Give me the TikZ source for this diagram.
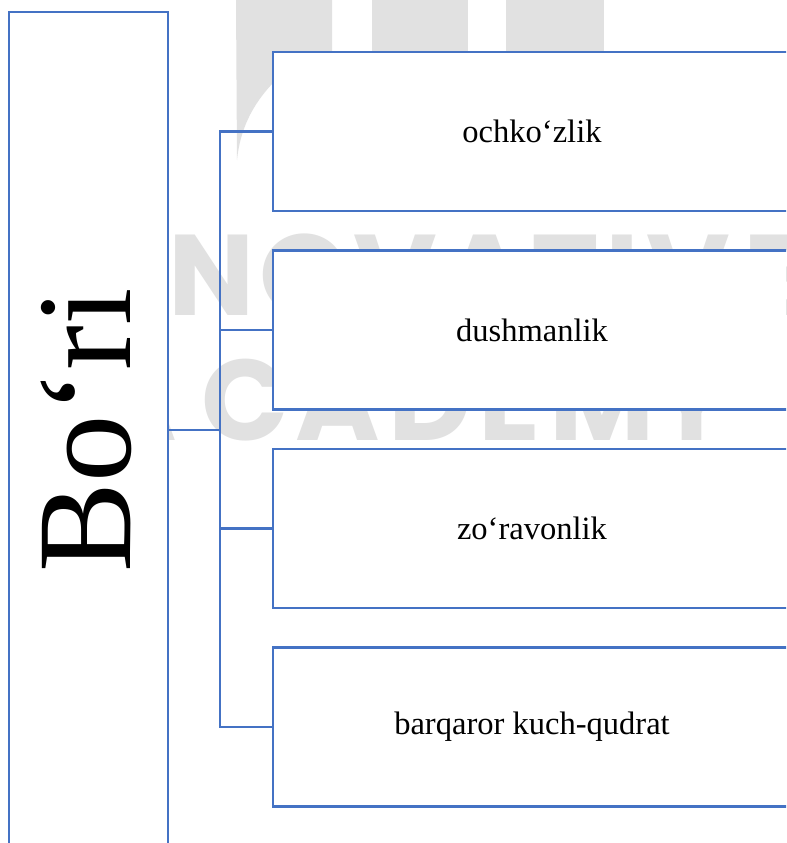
\documentclass[tikz,border=0pt]{standalone}
\usepackage{fontspec}
\setmainfont{Liberation Serif}
\newfontfamily\wmfont{Poppins}
\definecolor{boxblue}{HTML}{4472C4}
\definecolor{wmgrey}{HTML}{E1E1E1}
\tikzset{
  pix/.style={x=0.75pt,y=-0.75pt},
  boxline/.style={draw=boxblue,line width=1.9pt},
  item/.style={boxline,fill=white,rectangle,minimum width=388.5pt,minimum height=119.25pt,inner sep=0pt,font=\fontsize{24.4}{28}\selectfont},
  wire/.style={draw=boxblue,line width=1.9pt},
  wm/.style={text=wmgrey,font=\wmfont\bfseries\fontsize{86}{90}\selectfont,inner sep=0pt,anchor=base}
}
\begin{document}
\begin{tikzpicture}[pix]
\useasboundingbox (0,0) rectangle (786,843);
\clip (0,0) rectangle (786,843);
\fill[white] (0,0) rectangle (786,843);
% watermark logo
\fill[wmgrey] (236,0) -- (332,0) -- (332,80) -- (273,83) .. controls (252,105) and (240,130) .. (237,160) -- cycle;
\fill[wmgrey] (372,0) rectangle (468,150);
\fill[wmgrey] (506,0) rectangle (604,150);
% watermark letters
\foreach \l/\x [count=\i] in {I/40,N/120,N/212,O/305,V/395,A/485,T/565,I/622,V/688,E/775}
  \node[wm] (wa\i) at (\x,315) {\l};
\foreach \l/\x [count=\i] in {A/135,C/245,A/338,D/430,E/510,M/602,Y/692}
  \node[wm] (wb\i) at (\x,440) {\l};
% main box
\node[boxline,fill=white,rectangle,minimum width=119.25pt,minimum height=627pt,inner sep=0pt] (main) at (88.5,430) {};
\node[rotate=90,anchor=base,inner sep=0pt,font=\fontsize{101}{110}\selectfont] (title) at (130,430) {Bo‘ri};
% items
\node[item] (b1) at (532,131.5) {ochko‘zlik};
\node[item] (b2) at (532,330) {dushmanlik};
\node[item] (b3) at (532,528.5) {zo‘ravonlik};
\node[item] (b4) at (532,727) {barqaror kuch-qudrat};
% connectors
\coordinate (jct) at (220,430);
\draw[wire] (main.east) -- (jct);
\foreach \b in {b1,b2,b3,b4} \draw[wire] (\b.west) -| (jct);
\end{tikzpicture}
\end{document}
